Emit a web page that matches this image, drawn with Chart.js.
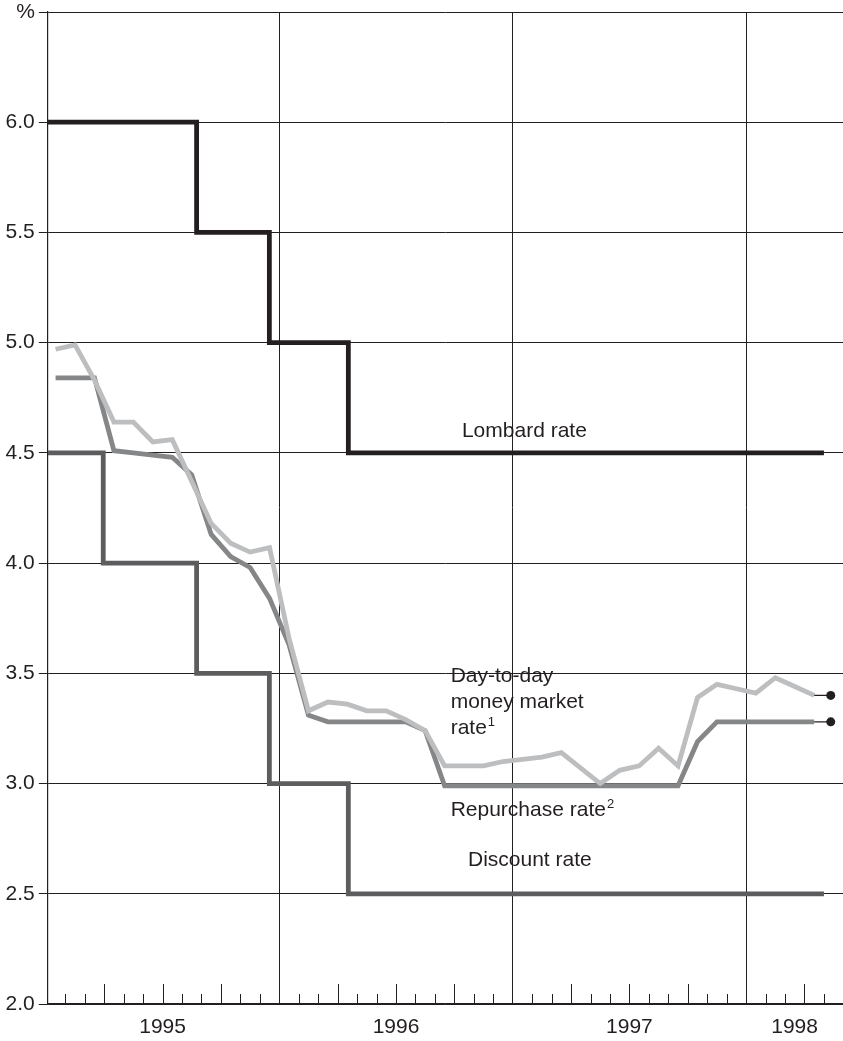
<!DOCTYPE html>
<html>
<head>
<meta charset="utf-8">
<script src="https://cdn.jsdelivr.net/npm/chart.js@4.4.1/dist/chart.umd.min.js"></script>
<style>
  html, body { margin: 0; padding: 0; background: #fff; }
  #wrap { width: 843px; height: 1041px; position: relative; }
</style>
</head>
<body>
<div id="wrap"><canvas id="chart" width="843" height="1041"></canvas></div>
<script>
// x = months counted from 1 Jan 1995; monthly averages sit at mid-month
const yearLabels = ['1995', '1996', '1997', '1998'];
const yearStarts = [0, 12, 24, 36];

// Jan 1995 .. Apr 1998, monthly averages
const moneyMarketRate = [
  4.97, 4.99, 4.83, 4.64, 4.64, 4.55, 4.56, 4.37, 4.18, 4.09, 4.05, 4.07,
  3.66, 3.33, 3.37, 3.36, 3.33, 3.33, 3.29, 3.24, 3.08, 3.08, 3.08, 3.10,
  3.11, 3.12, 3.14, 3.07, 3.00, 3.06, 3.08, 3.16, 3.08, 3.39, 3.45, 3.43,
  3.41, 3.48, 3.44, 3.40
];
const repurchaseRate = [
  4.84, 4.84, 4.84, 4.51, 4.50, 4.49, 4.48, 4.40, 4.13, 4.03, 3.98, 3.84,
  3.63, 3.31, 3.28, 3.28, 3.28, 3.28, 3.28, 3.24, 2.99, 2.99, 2.99, 2.99,
  2.99, 2.99, 2.99, 2.99, 2.99, 2.99, 2.99, 2.99, 2.99, 3.19, 3.28, 3.28,
  3.28, 3.28, 3.28, 3.28
];

// official rates: month of each change and the new level
const discountChanges = [0.1, 2.95, 7.75, 11.49, 15.55, 40];
const discountRate = [4.5, 4.0, 3.5, 3.0, 2.5, 2.5];
const lombardChanges = [0.1, 7.75, 11.49, 15.55, 40];
const lombardRate = [6.0, 5.5, 5.0, 4.5, 4.5];

// latest daily observation (dot at the right)
const latestMonth = 40.35;
const moneyMarketLatest = 3.40;
const repurchaseLatest = 3.28;

const INK = '#231f20';
const FONT = '"Liberation Sans", Arial, Helvetica, sans-serif';
const X_MIN = 0.1;
const X_MAX = 40.98;

const monthly = (vals) => vals.map((v, i) => ({ x: i + 0.5, y: v }));
const steps = (xs, ys) => xs.map((x, i) => ({ x, y: ys[i] }));

const yearLabelPos = yearStarts.map((s, i) =>
  i < yearStarts.length - 1 ? s + 6 : (s + X_MAX) / 2
);

// text labels inside the plot, in data units (left edge, baseline)
const seriesLabels = [
  { lines: [['Lombard rate', '']], x: 21.39, y: 4.572 },
  { lines: [['Day-to-day', ''], ['money market', ''], ['rate', '1']], x: 20.81, y: 3.462 },
  { lines: [['Repurchase rate', '2']], x: 20.81, y: 2.852 },
  { lines: [['Discount rate', '']], x: 21.7, y: 2.626 }
];

const monthTicksPlugin = {
  id: 'monthTicks',
  afterDraw(chart) {
    const { ctx, chartArea } = chart;
    const xs = chart.scales.x;
    ctx.save();
    ctx.strokeStyle = INK;
    ctx.lineWidth = 1;
    for (let m = 1; m <= Math.floor(X_MAX); m++) {
      if (m % 12 === 0) continue;
      const len = m % 3 === 0 ? 20 : 10;
      const px = Math.round(xs.getPixelForValue(m)) + 0.5;
      ctx.beginPath();
      ctx.moveTo(px, chartArea.bottom);
      ctx.lineTo(px, chartArea.bottom - len);
      ctx.stroke();
    }
    ctx.restore();
  }
};

const seriesLabelPlugin = {
  id: 'seriesLabels',
  afterDatasetsDraw(chart) {
    const { ctx } = chart;
    const xs = chart.scales.x;
    const ys = chart.scales.y;
    ctx.save();
    ctx.fillStyle = INK;
    ctx.textBaseline = 'alphabetic';
    ctx.textAlign = 'left';
    seriesLabels.forEach((lab) => {
      const x0 = xs.getPixelForValue(lab.x);
      let y0 = ys.getPixelForValue(lab.y);
      lab.lines.forEach(([txt, sup]) => {
        ctx.font = `21px ${FONT}`;
        ctx.fillText(txt, x0, y0);
        if (sup) {
          const w = ctx.measureText(txt).width;
          ctx.font = `13px ${FONT}`;
          ctx.fillText(sup, x0 + w + 1, y0 - 8);
        }
        y0 += 26;
      });
    });
    ctx.restore();
  }
};

const lineBase = {
  fill: false,
  pointRadius: 0,
  borderWidth: 4.8,
  borderCapStyle: 'butt',
  borderJoinStyle: 'miter',
  tension: 0
};

new Chart(document.getElementById('chart'), {
  type: 'line',
  plugins: [monthTicksPlugin, seriesLabelPlugin],
  data: {
    datasets: [
      {
        label: 'Latest money market',
        data: [
          { x: moneyMarketRate.length - 0.5, y: moneyMarketRate[moneyMarketRate.length - 1] },
          { x: latestMonth, y: moneyMarketLatest }
        ],
        borderColor: INK,
        borderWidth: 1.3,
        pointRadius: [0, 4.5],
        pointBackgroundColor: INK,
        pointBorderWidth: 0
      },
      {
        label: 'Latest repurchase',
        data: [
          { x: repurchaseRate.length - 0.5, y: repurchaseRate[repurchaseRate.length - 1] },
          { x: latestMonth, y: repurchaseLatest }
        ],
        borderColor: INK,
        borderWidth: 1.3,
        pointRadius: [0, 4.5],
        pointBackgroundColor: INK,
        pointBorderWidth: 0
      },
      {
        ...lineBase,
        label: 'Day-to-day money market rate',
        data: monthly(moneyMarketRate),
        borderColor: '#bdbec0'
      },
      {
        ...lineBase,
        label: 'Repurchase rate',
        data: monthly(repurchaseRate),
        borderColor: '#858688'
      },
      {
        ...lineBase,
        label: 'Lombard rate',
        data: steps(lombardChanges, lombardRate),
        stepped: 'before',
        borderColor: INK
      },
      {
        ...lineBase,
        label: 'Discount rate',
        data: steps(discountChanges, discountRate),
        stepped: 'before',
        borderColor: '#5d5d5f'
      }
    ]
  },
  options: {
    responsive: false,
    animation: false,
    events: [],
    layout: { padding: 0, autoPadding: false },
    plugins: {
      legend: { display: false },
      tooltip: { enabled: false }
    },
    scales: {
      x: {
        type: 'linear',
        min: X_MIN,
        max: X_MAX,
        afterBuildTicks: (scale) => {
          scale.ticks = [...yearStarts.slice(1), ...yearLabelPos]
            .sort((a, b) => a - b)
            .map((value) => ({ value }));
        },
        afterFit: (scale) => {
          scale.height = 37;
          scale.paddingLeft = 0;
          scale.paddingRight = 0;
        },
        grid: {
          drawTicks: false,
          color: (ctx) =>
            ctx.tick && yearStarts.includes(ctx.tick.value) ? INK : 'rgba(0,0,0,0)',
          lineWidth: 1
        },
        border: { display: true, color: INK, width: 1.2 },
        ticks: {
          autoSkip: false,
          maxRotation: 0,
          padding: 11,
          color: INK,
          font: { family: FONT, size: 21 },
          callback: (v) => {
            const i = yearLabelPos.indexOf(v);
            return i >= 0 ? yearLabels[i] : '';
          }
        }
      },
      y: {
        min: 2,
        max: 6.5,
        afterFit: (scale) => {
          scale.width = 47.8;
          scale.paddingTop = 12;
          scale.paddingBottom = 0;
        },
        grid: {
          color: INK,
          lineWidth: 1,
          tickLength: 9,
          drawTicks: true
        },
        border: { display: true, color: INK, width: 1.2 },
        ticks: {
          stepSize: 0.5,
          padding: 4,
          color: INK,
          font: { family: FONT, size: 21 },
          callback: (v) => (v === 6.5 ? '%' : v.toFixed(1))
        }
      }
    }
  }
});
</script>
</body>
</html>
